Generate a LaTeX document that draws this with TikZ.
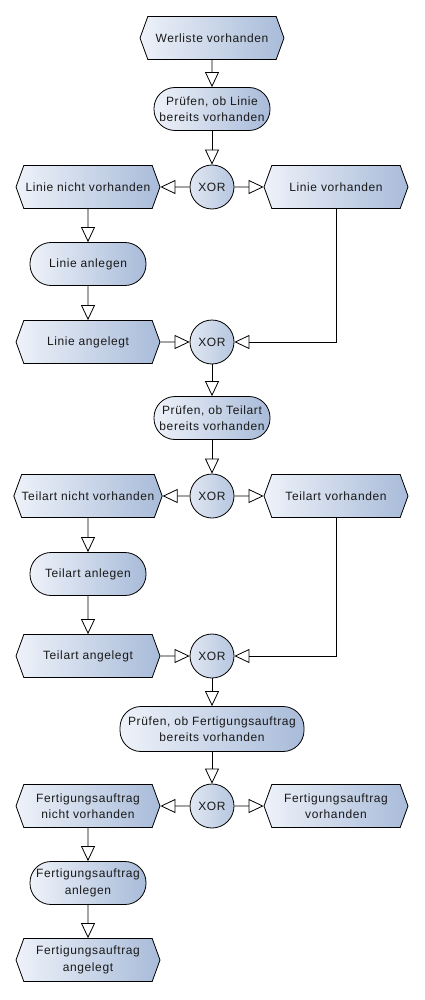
\documentclass[tikz,border=0pt]{standalone}
\usepackage{fontspec}
\setmainfont[LetterSpace=5]{Liberation Sans}
\usepackage{tikz}
\usetikzlibrary{shapes.symbols,arrows.meta}

\definecolor{epklight}{HTML}{EEF2F9}
\definecolor{epkdark}{HTML}{A8BBD9}

\begin{document}
\begin{tikzpicture}[x=1pt,y=-1pt,
    every node/.style={font=\fontsize{12}{16.5}\selectfont, text=black!90, align=center, inner sep=0pt},
    event/.style={signal, signal to=west and east, signal pointer angle=140, draw,
        line width=0.8pt, left color=epklight, right color=epkdark,
        minimum width=144pt, minimum height=43pt},
    func/.style={rectangle, rounded corners=21pt, draw, line width=0.8pt,
        left color=epklight, right color=epkdark, minimum width=116pt, minimum height=43pt},
    xor/.style={circle, draw, line width=0.8pt, left color=epklight!80!epkdark,
        right color=epkdark!80!epklight, minimum size=44pt},
    flow/.style={line width=0.8pt, -{Triangle[open, length=15pt, width=14pt]}}]
    \useasboundingbox (0,0) rectangle (424,1000);

    \node[event] (werliste) at (212,38) {Werliste vorhanden};
    \node[func] (pruefLinie) at (212,109) {Prüfen, ob Linie\\bereits vorhanden};
    \node[xor] (xorA) at (212,187) {XOR};
    \node[event] (linieNicht) at (88,187) {Linie nicht vorhanden};
    \node[event] (linieDa) at (336,187) {Linie vorhanden};
    \node[func] (linieAnlegen) at (88,264) {Linie anlegen};
    \node[event] (linieAngelegt) at (88,342) {Linie angelegt};
    \node[xor] (xorB) at (212,342) {XOR};

    \node[func] (pruefTeilart) at (212,418) {Prüfen, ob Teilart\\bereits vorhanden};
    \node[xor] (xorC) at (212,496) {XOR};
    \node[event] (teilartNicht) at (88,496) {Teilart nicht vorhanden};
    \node[event] (teilartDa) at (336,496) {Teilart vorhanden};
    \node[func] (teilartAnlegen) at (88,574) {Teilart anlegen};
    \node[event] (teilartAngelegt) at (88,656) {Teilart angelegt};
    \node[xor] (xorD) at (212,656) {XOR};

    \node[func, minimum width=184pt, minimum height=45pt] (pruefAuftrag) at (212,729)
        {Prüfen, ob Fertigungsauftrag\\bereits vorhanden};
    \node[xor] (xorE) at (212,806) {XOR};
    \node[event] (auftragNicht) at (88,806) {Fertigungsauftrag\\nicht vorhanden};
    \node[event] (auftragDa) at (336,806) {Fertigungsauftrag\\vorhanden};
    \node[func] (auftragAnlegen) at (88,883) {Fertigungsauftrag\\anlegen};
    \node[event] (auftragAngelegt) at (88,960) {Fertigungsauftrag\\angelegt};

    \draw[flow] (werliste) -- (pruefLinie);
    \draw[flow] (pruefLinie) -- (xorA);
    \draw[flow] (xorA) -- (linieNicht);
    \draw[flow] (xorA) -- (linieDa);
    \draw[flow] (linieNicht) -- (linieAnlegen);
    \draw[flow] (linieAnlegen) -- (linieAngelegt);
    \draw[flow] (linieAngelegt) -- (xorB);
    \draw[flow] (linieDa.south) |- (xorB);
    \draw[flow] (xorB) -- (pruefTeilart);

    \draw[flow] (pruefTeilart) -- (xorC);
    \draw[flow] (xorC) -- (teilartNicht);
    \draw[flow] (xorC) -- (teilartDa);
    \draw[flow] (teilartNicht) -- (teilartAnlegen);
    \draw[flow] (teilartAnlegen) -- (teilartAngelegt);
    \draw[flow] (teilartAngelegt) -- (xorD);
    \draw[flow] (teilartDa.south) |- (xorD);
    \draw[flow] (xorD) -- (pruefAuftrag);

    \draw[flow] (pruefAuftrag) -- (xorE);
    \draw[flow] (xorE) -- (auftragNicht);
    \draw[flow] (xorE) -- (auftragDa);
    \draw[flow] (auftragNicht) -- (auftragAnlegen);
    \draw[flow] (auftragAnlegen) -- (auftragAngelegt);
\end{tikzpicture}
\end{document}
